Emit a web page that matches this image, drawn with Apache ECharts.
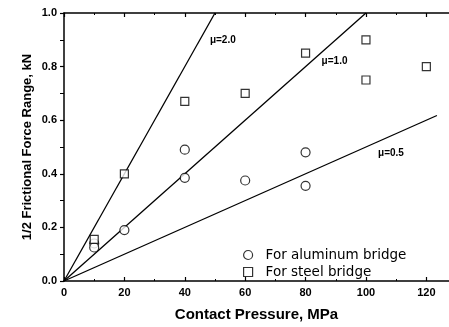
<!DOCTYPE html>
<html>
<head>
<meta charset="utf-8">
<script src="https://cdn.jsdelivr.net/npm/echarts@6/dist/echarts.min.js"></script>
<style>
  html, body { margin: 0; padding: 0; background: #fff; }
  #chart { width: 449px; height: 327px; }
</style>
</head>
<body>
<div id="chart"></div>
<script>
// Measured friction data: contact pressure (MPa) vs. half frictional force range (kN)
const aluminumPressure = [10, 10, 20, 40, 40, 60, 80, 80];
const aluminumForce    = [0.14, 0.125, 0.19, 0.385, 0.49, 0.375, 0.48, 0.355];
const steelPressure    = [10, 20, 40, 60, 80, 100, 100, 120];
const steelForce       = [0.155, 0.40, 0.67, 0.70, 0.85, 0.90, 0.75, 0.80];

// Friction coefficient reference lines: force = mu * pressure / 100
const muValues   = [2.0, 1.0, 0.5];
const muLineEndX = [50, 100, 123.5];
const muLabels   = ['\u03bc=2.0', '\u03bc=1.0', '\u03bc=0.5'];

const xTicks = [0, 20, 40, 60, 80, 100, 120];
const yTicks = [0.0, 0.2, 0.4, 0.6, 0.8, 1.0];

const FONT = 'Liberation Sans, Arial, sans-serif';
const WIDE_FONT = 'DejaVu Sans, Liberation Sans, sans-serif';

const pairs = (xs, ys) => xs.map((x, i) => [x, ys[i]]);

// label anchors for the mu lines, in axis units
const labelAnchors = [
  { coord: [45, 0.9], offset: [10, 0] },
  { coord: [82, 0.82], offset: [10, 0] },
  { coord: [104, 0.52], offset: [0, 12] }
];

const lineSeries = muValues.map((mu, i) => ({
  type: 'line',
  data: [[0, 0], [muLineEndX[i], mu * muLineEndX[i] / 100]],
  symbol: 'none',
  lineStyle: { color: '#000', width: 1.3 },
  silent: true,
  z: 2,
  markPoint: {
    symbol: 'circle',
    symbolSize: 0,
    data: [{
      coord: labelAnchors[i].coord,
      label: {
        show: true,
        formatter: muLabels[i],
        position: 'right',
        offset: labelAnchors[i].offset,
        distance: 0,
        color: '#000',
        fontFamily: FONT,
        fontSize: 10,
        fontWeight: 'bold'
      }
    }]
  }
}));

const chart = echarts.init(document.getElementById('chart'), null, { renderer: 'canvas' });

const axisLabelStyle = {
  color: '#000',
  fontFamily: FONT,
  fontSize: 11,
  fontWeight: 'bold'
};

const xAxisCommon = {
  type: 'value',
  min: 0,
  max: 127.5,
  interval: 20,
  axisLine: { show: true, lineStyle: { color: '#000', width: 1.5 } },
  axisTick: { show: true, inside: true, length: 4, lineStyle: { color: '#000', width: 1.2 }, customValues: xTicks },
  minorTick: { show: true, splitNumber: 2, length: 2, lineStyle: { color: '#000', width: 1 } },
  splitLine: { show: false }
};

chart.setOption({
  animation: false,
  backgroundColor: '#fff',
  grid: { left: 64, right: 0, top: 13, bottom: 43 },
  legend: {
    orient: 'vertical',
    left: 238,
    top: 243,
    itemWidth: 9,
    itemHeight: 9,
    itemGap: 3,
    textStyle: { color: '#000', fontFamily: WIDE_FONT, fontSize: 13.5, lineHeight: 14, padding: [0, 0, 0, 8] },
    data: [
      { name: 'For aluminum bridge', icon: 'circle', itemStyle: { color: '#fff', borderColor: '#000', borderWidth: 1.2 } },
      { name: 'For steel bridge', icon: 'rect', itemStyle: { color: '#fff', borderColor: '#000', borderWidth: 1.2 } }
    ]
  },
  xAxis: [Object.assign({}, xAxisCommon, {
    position: 'bottom',
    name: 'Contact Pressure, MPa',
    nameLocation: 'middle',
    nameGap: 26,
    nameTextStyle: { color: '#000', fontFamily: FONT, fontSize: 15, fontWeight: 'bold' },
    axisLabel: Object.assign({ margin: 6, customValues: xTicks }, axisLabelStyle)
  }), Object.assign({}, xAxisCommon, {
    position: 'top',
    axisLabel: { show: false }
  })],
  yAxis: {
    type: 'value',
    min: 0,
    max: 1.0,
    interval: 0.2,
    name: '1/2 Frictional Force Range, kN',
    nameLocation: 'middle',
    nameGap: 30,
    nameMoveOverlap: false,
    nameTextStyle: { color: '#000', fontFamily: FONT, fontSize: 13, fontWeight: 'bold' },
    axisLine: { show: true, lineStyle: { color: '#000', width: 1.5 } },
    axisTick: { show: true, inside: false, length: 4, lineStyle: { color: '#000', width: 1.2 }, customValues: yTicks },
    minorTick: { show: true, splitNumber: 2, length: 4, lineStyle: { color: '#000', width: 1 } },
    axisLabel: Object.assign({
      margin: 7,
      customValues: yTicks,
      formatter: v => v.toFixed(1)
    }, axisLabelStyle),
    splitLine: { show: false }
  },
  series: lineSeries.concat([
    {
      name: 'For aluminum bridge',
      type: 'scatter',
      data: pairs(aluminumPressure, aluminumForce),
      symbol: 'circle',
      symbolSize: 9,
      itemStyle: { color: '#fff', borderColor: '#000', borderWidth: 1.2 },
      z: 3
    },
    {
      name: 'For steel bridge',
      type: 'scatter',
      data: pairs(steelPressure, steelForce),
      symbol: 'rect',
      symbolSize: 8,
      itemStyle: { color: '#fff', borderColor: '#000', borderWidth: 1.2 },
      z: 3
    }
  ])
});
</script>
</body>
</html>
